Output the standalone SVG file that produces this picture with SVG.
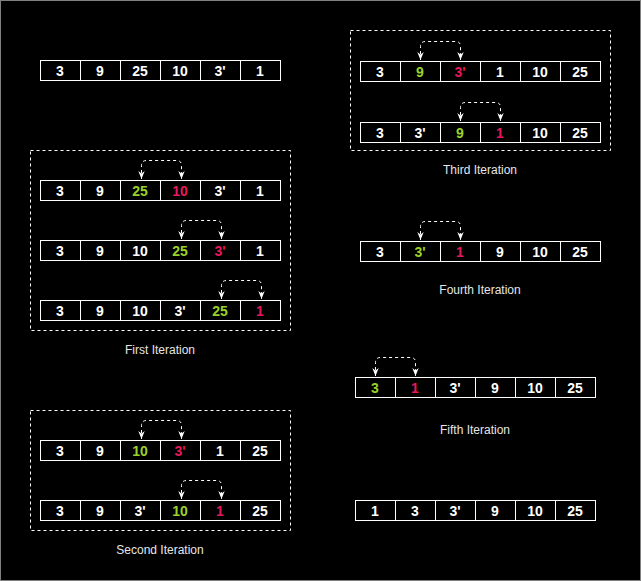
<svg xmlns="http://www.w3.org/2000/svg" width="641" height="581" viewBox="0 0 641 581">
<defs>
<style>
.cell{fill:#000;stroke:#fff;stroke-width:1}
.n{font-family:"Liberation Sans",Arial,sans-serif;font-size:14px;font-weight:bold;fill:#fff;text-anchor:middle}
.g{fill:#9BD22A}
.r{fill:#E8185C}
.lbl{font-family:"Liberation Sans",Arial,sans-serif;font-size:12px;fill:#e6e6e6;text-anchor:middle}
.box{fill:none;stroke:#fff;stroke-width:1;stroke-dasharray:3 3}
.arc{fill:none;stroke:#fff;stroke-width:1;stroke-dasharray:3 3;marker-start:url(#ah);marker-end:url(#ah)}
</style>
<marker id="ah" viewBox="0 0 10 10" refX="10" refY="5" markerWidth="8" markerHeight="8" markerUnits="userSpaceOnUse" orient="auto-start-reverse">
<path d="M0,1 L10,5 L0,9 L3,5 Z" fill="#fff"/>
</marker>
</defs>
<rect x="0.5" y="0.5" width="640" height="580" fill="#000" stroke="#808080"/>

<g id="boxes">
<rect class="box" x="30.5" y="150.5" width="260" height="180"/>
<rect class="box" x="30.5" y="410.5" width="260" height="120"/>
<rect class="box" x="350.5" y="30.5" width="260" height="120"/>
</g>

<g id="row-initial">
<rect class="cell" x="40.5" y="60.5" width="240" height="20"/>
<path d="M80.5 60.5V80.5M120.5 60.5V80.5M160.5 60.5V80.5M200.5 60.5V80.5M240.5 60.5V80.5" stroke="#fff"/>
<text class="n" x="60" y="76">3</text><text class="n" x="100" y="76">9</text><text class="n" x="140" y="76">25</text><text class="n" x="180" y="76">10</text><text class="n" x="220" y="76">3'</text><text class="n" x="260" y="76">1</text>
</g>

<g id="row-first-1">
<rect class="cell" x="40.5" y="180.5" width="240" height="20"/>
<path d="M80.5 180.5V200.5M120.5 180.5V200.5M160.5 180.5V200.5M200.5 180.5V200.5M240.5 180.5V200.5" stroke="#fff"/>
<text class="n" x="60" y="196">3</text><text class="n" x="100" y="196">9</text><text class="n g" x="140" y="196">25</text><text class="n r" x="180" y="196">10</text><text class="n" x="220" y="196">3'</text><text class="n" x="260" y="196">1</text>
</g>
<g id="row-first-2">
<rect class="cell" x="40.5" y="240.5" width="240" height="20"/>
<path d="M80.5 240.5V260.5M120.5 240.5V260.5M160.5 240.5V260.5M200.5 240.5V260.5M240.5 240.5V260.5" stroke="#fff"/>
<text class="n" x="60" y="256">3</text><text class="n" x="100" y="256">9</text><text class="n" x="140" y="256">10</text><text class="n g" x="180" y="256">25</text><text class="n r" x="220" y="256">3'</text><text class="n" x="260" y="256">1</text>
</g>
<g id="row-first-3">
<rect class="cell" x="40.5" y="300.5" width="240" height="20"/>
<path d="M80.5 300.5V320.5M120.5 300.5V320.5M160.5 300.5V320.5M200.5 300.5V320.5M240.5 300.5V320.5" stroke="#fff"/>
<text class="n" x="60" y="316">3</text><text class="n" x="100" y="316">9</text><text class="n" x="140" y="316">10</text><text class="n" x="180" y="316">3'</text><text class="n g" x="220" y="316">25</text><text class="n r" x="260" y="316">1</text>
</g>

<g id="row-second-1">
<rect class="cell" x="40.5" y="440.5" width="240" height="20"/>
<path d="M80.5 440.5V460.5M120.5 440.5V460.5M160.5 440.5V460.5M200.5 440.5V460.5M240.5 440.5V460.5" stroke="#fff"/>
<text class="n" x="60" y="456">3</text><text class="n" x="100" y="456">9</text><text class="n g" x="140" y="456">10</text><text class="n r" x="180" y="456">3'</text><text class="n" x="220" y="456">1</text><text class="n" x="260" y="456">25</text>
</g>
<g id="row-second-2">
<rect class="cell" x="40.5" y="500.5" width="240" height="20"/>
<path d="M80.5 500.5V520.5M120.5 500.5V520.5M160.5 500.5V520.5M200.5 500.5V520.5M240.5 500.5V520.5" stroke="#fff"/>
<text class="n" x="60" y="516">3</text><text class="n" x="100" y="516">9</text><text class="n" x="140" y="516">3'</text><text class="n g" x="180" y="516">10</text><text class="n r" x="220" y="516">1</text><text class="n" x="260" y="516">25</text>
</g>

<g id="row-third-1">
<rect class="cell" x="360.5" y="61.5" width="240" height="20"/>
<path d="M400.5 61.5V81.5M440.5 61.5V81.5M480.5 61.5V81.5M520.5 61.5V81.5M560.5 61.5V81.5" stroke="#fff"/>
<text class="n" x="380" y="77">3</text><text class="n g" x="420" y="77">9</text><text class="n r" x="460" y="77">3'</text><text class="n" x="500" y="77">1</text><text class="n" x="540" y="77">10</text><text class="n" x="580" y="77">25</text>
</g>
<g id="row-third-2">
<rect class="cell" x="360.5" y="122.5" width="240" height="20"/>
<path d="M400.5 122.5V142.5M440.5 122.5V142.5M480.5 122.5V142.5M520.5 122.5V142.5M560.5 122.5V142.5" stroke="#fff"/>
<text class="n" x="380" y="138">3</text><text class="n" x="420" y="138">3'</text><text class="n g" x="460" y="138">9</text><text class="n r" x="500" y="138">1</text><text class="n" x="540" y="138">10</text><text class="n" x="580" y="138">25</text>
</g>

<g id="row-fourth">
<rect class="cell" x="360.5" y="241.5" width="240" height="20"/>
<path d="M400.5 241.5V261.5M440.5 241.5V261.5M480.5 241.5V261.5M520.5 241.5V261.5M560.5 241.5V261.5" stroke="#fff"/>
<text class="n" x="380" y="257">3</text><text class="n g" x="420" y="257">3'</text><text class="n r" x="460" y="257">1</text><text class="n" x="500" y="257">9</text><text class="n" x="540" y="257">10</text><text class="n" x="580" y="257">25</text>
</g>

<g id="row-fifth">
<rect class="cell" x="355.5" y="377.5" width="240" height="20"/>
<path d="M395.5 377.5V397.5M435.5 377.5V397.5M475.5 377.5V397.5M515.5 377.5V397.5M555.5 377.5V397.5" stroke="#fff"/>
<text class="n g" x="375" y="393">3</text><text class="n r" x="415" y="393">1</text><text class="n" x="455" y="393">3'</text><text class="n" x="495" y="393">9</text><text class="n" x="535" y="393">10</text><text class="n" x="575" y="393">25</text>
</g>

<g id="row-final">
<rect class="cell" x="355.5" y="500.5" width="240" height="20"/>
<path d="M395.5 500.5V520.5M435.5 500.5V520.5M475.5 500.5V520.5M515.5 500.5V520.5M555.5 500.5V520.5" stroke="#fff"/>
<text class="n" x="375" y="516">1</text><text class="n" x="415" y="516">3</text><text class="n" x="455" y="516">3'</text><text class="n" x="495" y="516">9</text><text class="n" x="535" y="516">10</text><text class="n" x="575" y="516">25</text>
</g>

<g id="connectors">
<path class="arc" d="M141.5 179V165.5Q141.5 160.5 146.5 160.5H176.5Q181.5 160.5 181.5 165.5V179"/>
<path class="arc" d="M181.5 239V225.5Q181.5 220.5 186.5 220.5H216.5Q221.5 220.5 221.5 225.5V239"/>
<path class="arc" d="M221.5 299V285.5Q221.5 280.5 226.5 280.5H256.5Q261.5 280.5 261.5 285.5V299"/>
<path class="arc" d="M141.5 439V425.5Q141.5 420.5 146.5 420.5H176.5Q181.5 420.5 181.5 425.5V439"/>
<path class="arc" d="M181.5 499V485.5Q181.5 480.5 186.5 480.5H216.5Q221.5 480.5 221.5 485.5V499"/>
<path class="arc" d="M420.5 60V46.5Q420.5 41.5 425.5 41.5H455.5Q460.5 41.5 460.5 46.5V60"/>
<path class="arc" d="M460.5 121V107.5Q460.5 102.5 465.5 102.5H495.5Q500.5 102.5 500.5 107.5V121"/>
<path class="arc" d="M420.5 240V226.5Q420.5 221.5 425.5 221.5H455.5Q460.5 221.5 460.5 226.5V240"/>
<path class="arc" d="M375.5 376V362.5Q375.5 357.5 380.5 357.5H410.5Q415.5 357.5 415.5 362.5V376"/>
</g>

<g id="labels">
<text class="lbl" x="160" y="354">First Iteration</text>
<text class="lbl" x="160" y="554">Second Iteration</text>
<text class="lbl" x="480" y="174">Third Iteration</text>
<text class="lbl" x="480" y="294">Fourth Iteration</text>
<text class="lbl" x="475" y="434">Fifth Iteration</text>
</g>
</svg>
